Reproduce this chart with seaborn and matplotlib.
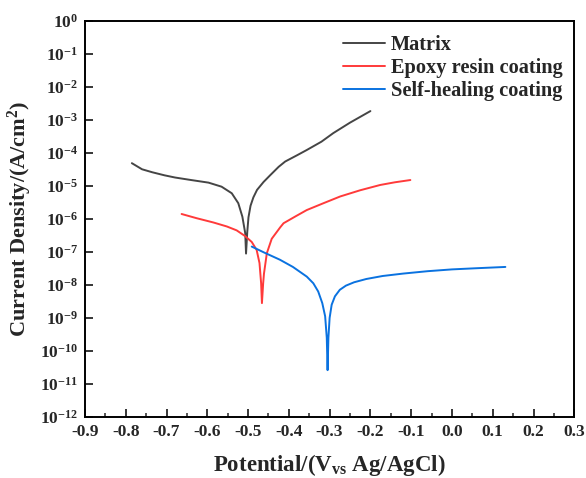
import matplotlib
matplotlib.use("Agg")
import matplotlib.pyplot as plt
import seaborn as sns
import numpy as np
import pandas as pd
from matplotlib.ticker import FixedLocator, FuncFormatter, MultipleLocator, NullLocator

# ---- data ----
matrix_x = [-0.785, -0.760, -0.735, -0.705, -0.679, -0.638, -0.597, -0.565, -0.540, -0.524,
            -0.514, -0.507, -0.505, -0.502, -0.499, -0.494, -0.487, -0.478, -0.462, -0.446,
            -0.425, -0.409, -0.380, -0.356, -0.320, -0.291, -0.250, -0.200]
matrix_y = [4.9e-5, 3.2e-5, 2.6e-5, 2.1e-5, 1.8e-5, 1.5e-5, 1.26e-5, 9.5e-6, 6.0e-6, 3.0e-6,
            1.17e-6, 3.7e-7, 8.9e-8, 4.0e-7, 1.12e-6, 2.5e-6, 4.5e-6, 7.6e-6, 1.32e-5, 2.1e-5,
            3.8e-5, 5.5e-5, 8.5e-5, 1.23e-4, 2.2e-4, 4.0e-4, 8.3e-4, 1.86e-3]

epoxy_x = [-0.663, -0.626, -0.585, -0.552, -0.528, -0.507, -0.491, -0.479, -0.472, -0.468,
           -0.466, -0.463, -0.461, -0.454, -0.442, -0.421, -0.413, -0.385, -0.356, -0.315,
           -0.274, -0.225, -0.176, -0.140, -0.102]
epoxy_y = [1.41e-6, 1.05e-6, 7.8e-7, 5.9e-7, 4.5e-7, 3.0e-7, 2.0e-7, 1.15e-7, 4.6e-8, 1.12e-8,
           2.8e-9, 1.12e-8, 2.2e-8, 9.1e-8, 2.5e-7, 5.6e-7, 7.4e-7, 1.17e-6, 1.86e-6, 3.0e-6,
           4.8e-6, 7.4e-6, 1.07e-5, 1.29e-5, 1.51e-5]

self_x = [-0.491, -0.460, -0.422, -0.390, -0.356, -0.340, -0.328, -0.318, -0.311, -0.307,
          -0.305, -0.303, -0.300, -0.295, -0.287, -0.275, -0.260, -0.240, -0.210, -0.170,
          -0.120, -0.060, 0.000, 0.060, 0.131]
self_y = [1.45e-7, 9.5e-8, 5.8e-8, 3.5e-8, 1.78e-8, 1.12e-8, 6.3e-9, 2.8e-9, 1.12e-9, 2.5e-10,
          2.6e-11, 2.5e-10, 1.0e-9, 2.5e-9, 4.5e-9, 7.1e-9, 9.5e-9, 1.2e-8, 1.51e-8, 1.86e-8,
          2.2e-8, 2.6e-8, 2.95e-8, 3.2e-8, 3.5e-8]

series_names = ["Matrix", "Epoxy resin coating", "Self-healing coating"]
series_colors = ["#454545", "#ff3a3a", "#0a72e0"]
x_ticks = [-0.9, -0.8, -0.7, -0.6, -0.5, -0.4, -0.3, -0.2, -0.1, 0.0, 0.1, 0.2, 0.3]
y_exponents = list(range(0, -13, -1))

# ---- style ----
sns.set_style("ticks")
plt.rcParams["font.family"] = ["Liberation Serif", "DejaVu Serif"]
plt.rcParams["font.weight"] = "bold"
plt.rcParams["mathtext.fontset"] = "custom"
plt.rcParams["mathtext.rm"] = "Liberation Serif:bold"
plt.rcParams["mathtext.it"] = "Liberation Serif:bold"
plt.rcParams["mathtext.bf"] = "Liberation Serif:bold"

fig = plt.figure(figsize=(5.86, 4.78), dpi=100)
ax = fig.add_axes([0.145, 0.128, 0.835, 0.828])

frames = []
for name, xs, ys in zip(series_names, [matrix_x, epoxy_x, self_x], [matrix_y, epoxy_y, self_y]):
    frames.append(pd.DataFrame({"E": xs, "I": ys, "series": name}))
df = pd.concat(frames, ignore_index=True)

sns.lineplot(data=df, x="E", y="I", hue="series", hue_order=series_names,
             palette=series_colors, sort=False, estimator=None, units="series",
             linewidth=1.4, ax=ax, legend=True)

ax.set_yscale("log")
ax.set_xlim(-0.9, 0.3)
ax.set_ylim(1e-12, 1)

ax.xaxis.set_major_locator(FixedLocator(x_ticks))
ax.xaxis.set_minor_locator(MultipleLocator(0.05))
ax.xaxis.set_major_formatter(FuncFormatter(lambda v, p: f"{v:.1f}" if abs(v) > 1e-9 else "0.0"))
ax.yaxis.set_major_locator(FixedLocator([10.0 ** e for e in y_exponents]))
ax.yaxis.set_minor_locator(NullLocator())
ax.yaxis.set_major_formatter(FuncFormatter(lambda v, p: r"$10^{%d}$" % int(round(np.log10(v)))))

ax.tick_params(axis="both", which="major", direction="in", length=6, width=1.3,
               labelsize=12.5, pad=5)
ax.tick_params(axis="x", which="minor", direction="in", length=3, width=1.1)
for lab in ax.get_xticklabels() + ax.get_yticklabels():
    lab.set_fontweight("bold")

for sp in ax.spines.values():
    sp.set_linewidth(1.4)
    sp.set_color("black")

ax.set_xlabel(r"Potential/(V$_{\mathrm{vs}}$ Ag/AgCl)", fontsize=16.5, fontweight="bold", labelpad=9)
ax.set_ylabel(r"Current Density/(A/cm$^{2}$)", fontsize=16, fontweight="bold", labelpad=4)

leg = ax.legend(loc="upper right", bbox_to_anchor=(0.993, 0.985), borderaxespad=0,
                frameon=False, handlelength=2.05, handletextpad=0.3, labelspacing=0.14,
                prop={"family": "Liberation Serif", "weight": "bold", "size": 14.7})
for h in leg.get_lines():
    h.set_linewidth(1.4)

fig.savefig("out.png", dpi=100)
